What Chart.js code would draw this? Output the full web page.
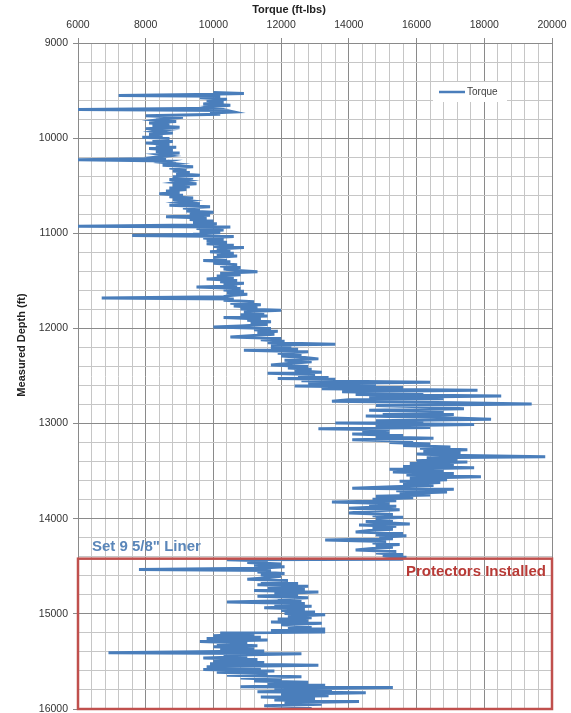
<!DOCTYPE html>
<html lang="en">
<head>
    <meta charset="UTF-8">
    <title>Torque vs Measured Depth</title>
    <script src="https://cdn.jsdelivr.net/npm/chart.js"></script>
    <style>
        body { margin: 0; background: #fff; }
        #wrap { width: 571px; height: 713px; }
    </style>
</head>
<body>
    <div id="wrap">
        <canvas id="torqueChart"></canvas>
    </div>

    <script>
        // [measured depth (ft), torque (ft-lbs)]
        const torqueByDepth = [
            [9520,10000],[9530,10900],[9540,9500],[9552,7200],[9560,10200],[9575,9600],[9590,10400],[9605,9800],
            [9620,10300],[9640,9700],[9655,10500],[9670,9900],[9685,10100],[9700,6000],[9710,10400],[9725,10600],
            [9735,9900],[9750,10200],[9765,8000],[9780,9100],[9795,8600],
            [9810,8300],[9825,8900],[9840,8100],[9855,8700],[9870,8200],[9885,9000],[9900,8000],[9915,8600],
            [9930,8300],[9945,8800],[9960,8100],[9975,8500],[9990,7900],[10005,8700],[10020,8200],[10035,8800],
            [10050,8000],[10065,8700],[10080,8300],[10095,8900],[10110,8100],[10125,8800],[10140,8300],[10155,9000],
            [10170,8400],[10185,8700],[10200,8300],[10215,8600],[10228,6000],[10240,8700],[10255,8500],[10270,8900],
            [10285,8500],[10300,9400],[10315,8700],[10330,9200],[10345,8800],[10360,9300],[10375,8900],[10390,9600],
            [10405,8800],[10420,9400],[10435,8700],[10450,9200],[10465,8900],[10480,9500],[10495,8800],[10510,9300],
            [10525,8700],[10540,9200],[10555,8600],[10570,9000],[10585,8400],[10600,9100],[10615,8700],[10630,9400],
            [10645,8800],[10660,9300],[10675,9000],[10690,9600],[10705,8700],[10720,9900],[10735,9100],[10750,9600],
            [10765,9200],[10780,10000],[10795,9300],[10810,9900],[10825,8600],[10840,9800],[10855,9300],[10870,10000],
            [10885,9400],[10900,10100],[10912,9500],[10925,6000],[10935,10500],[10950,9500],[10965,10300],[10980,9600],
            [10995,10200],[11010,9400],[11022,7600],[11035,10600],[11050,9700],[11065,10300],[11080,9800],[11095,10400],
            [11110,9800],[11125,10600],[11140,10000],[11150,10900],[11165,10100],[11180,10500],[11195,9900],[11210,10600],
            [11225,10100],[11240,10700],[11255,10000],[11270,10400],[11285,9700],[11300,10500],[11315,10000],[11330,10700],
            [11345,10200],[11360,10800],[11375,10300],[11390,10700],[11405,11300],[11420,10200],[11435,10800],[11450,10100],
            [11465,10600],[11480,9800],[11495,10700],[11510,10200],[11525,10900],[11540,10300],[11555,10700],[11565,9500],
            [11580,10800],[11595,10300],[11610,10900],[11625,10400],[11640,11000],[11655,10500],[11668,10300],[11680,6700],
            [11690,10600],
            [11705,10300],[11720,11200],[11735,10500],[11750,11400],[11765,10600],[11780,11300],[11795,10800],[11810,12000],
            [11825,10900],[11840,11500],[11855,10800],[11870,11600],[11885,10300],[11900,11400],[11915,11000],[11930,11700],
            [11945,11100],[11960,11600],[11975,10800],[11985,10000],[12000,11700],[12015,11200],[12030,11900],[12045,11300],
            [12060,11800],[12075,11200],[12090,10500],[12105,12000],[12120,11400],[12135,12100],[12150,11600],[12165,13600],
            [12175,11700],[12190,12300],[12205,11700],[12220,12500],[12230,10900],[12245,12800],[12260,11900],[12275,12600],
            [12290,12000],[12305,12700],[12320,13100],[12335,12100],[12350,12900],[12365,12300],[12385,11700],[12400,12800],
            [12415,12200],[12430,12900],[12445,12400],[12460,13200],[12470,11600],[12485,13000],[12500,12500],[12515,13400],
            [12525,11900],
            [12535,13600],[12550,12600],[12565,16400],[12580,12800],[12595,14800],[12605,12400],[12620,15600],[12635,13200],
            [12650,17800],[12665,13800],[12680,16200],[12695,14200],[12710,18500],[12725,14600],[12740,16800],[12750,14000],
            [12765,13500],[12780,17200],[12795,19400],[12810,14800],[12825,16400],[12845,17400],[12860,14600],[12875,16800],
            [12890,15000],[12905,17100],[12920,14500],[12935,16600],[12955,18200],[12970,14800],[12985,16200],[12995,13600],
            [13010,17700],[13025,14800],[13040,16400],[13055,13100],[13065,15200],
            [13080,14400],[13095,15200],[13110,14100],[13125,15600],[13140,14800],[13155,16500],[13170,14100],[13185,15900],
            [13200,15200],[13215,16400],[13230,15600],[13245,17000],[13260,16100],[13275,17500],[13290,16200],[13305,17300],
            [13320,16000],[13335,17400],[13350,19800],[13360,16300],[13375,17200],[13390,16000],[13405,17500],[13420,15800],
            [13435,17100],[13450,15600],[13465,17700],[13480,15200],[13495,16800],[13510,15300],[13525,17100],[13540,15700],
            [13560,17900],[13575,15800],[13590,16900],[13605,15500],[13620,16700],[13635,15600],[13650,16500],[13665,15300],
            [13680,14100],[13690,17100],[13705,15400],[13720,16900],[13735,15500],[13750,16400],
            [13765,14800],[13780,15900],[13795,14700],[13810,15400],[13825,13500],[13840,15200],[13855,14600],[13870,15400],
            [13890,14000],[13905,15500],[13920,14600],[13940,14000],[13955,15300],[13970,14700],[13985,15600],[14000,14800],
            [14015,15300],[14030,14500],[14045,15200],[14055,15800],[14065,14300],[14080,15400],[14095,14700],[14110,15300],
            [14125,14600],[14140,14200],[14155,15600],[14170,14800],[14180,15700],[14195,14900],[14210,15300],[14225,13300],
            [14240,15100],[14255,14700],[14270,15500],[14285,14800],[14300,15300],[14315,14600],[14330,14200],[14345,15400],
            [14360,14800],[14375,15600],[14390,15000],[14405,15700],[14415,15400],
            [14425,15600],[14432,10400],[14445,11600],[14460,11000],[14475,12000],[14490,11200],[14505,12100],[14520,11300],
            [14535,7800],[14545,11700],[14560,11300],[14575,12100],[14590,11400],[14605,12000],[14620,11600],[14635,11000],
            [14650,12200],[14665,11400],[14680,12500],[14695,11300],[14710,12800],[14725,11600],[14740,12700],[14755,11200],
            [14770,13100],[14785,11800],[14800,12500],[14815,11300],[14830,12800],[14845,11900],[14860,12600],[14875,10400],
            [14890,12700],[14905,11800],[14920,12900],[14935,11500],[14950,12700],[14965,12000],[14980,13000],[14995,12100],
            [15010,13300],[15025,12200],[15040,12900],[15055,11900],[15070,12800],[15085,11700],[15100,13200],[15115,12000],
            [15130,12900],[15145,12200],[15160,13300],[15175,11700],[15190,13300],
            [15200,10200],[15215,11200],[15230,10000],[15245,11400],[15260,9800],[15275,11600],[15290,9600],[15305,11000],
            [15320,10100],[15335,11300],[15345,10000],[15360,11200],[15375,10200],[15390,11500],[15410,6900],[15420,12600],
            [15435,10300],[15450,11000],[15465,9700],[15480,11300],[15495,10000],[15510,11500],[15525,9900],[15540,13100],
            [15555,9800],[15570,11400],[15585,9700],[15600,11800],[15615,10100],[15630,11600],[15645,10400],[15660,12600],
            [15675,10800],[15690,12000],
            [15705,11200],[15720,12800],[15735,11600],[15750,13300],[15765,10800],[15775,15300],[15790,11800],[15805,13500],
            [15820,11300],[15830,14500],[15845,12000],[15860,13400],[15875,11400],[15890,13000],[15905,11800],[15920,14300],
            [15935,12100],[15950,13200],[15965,11500],[15980,12900],[15995,12200],[16000,12600]
        ];

        const torqueTicks = [6000, 8000, 10000, 12000, 14000, 16000, 18000, 20000];
        const depthTicks = [9000, 10000, 11000, 12000, 13000, 14000, 15000, 16000];
        const linerDepth = 14420;   // Set 9 5/8" liner, protectors below this

        const blue = '#4a7ebb';
        const red = '#c0504d';
        const majorGrid = '#8a8a8a';
        const minorGrid = '#c6c6c6';
        const narrow = '"Liberation Sans Narrow", "Liberation Sans", sans-serif';

        const overlays = {
            id: 'overlays',
            afterDatasetsDraw(chart) {
                const c = chart.ctx;
                const x = chart.scales.x, y = chart.scales.y;
                const left = x.getPixelForValue(6000), right = x.getPixelForValue(20000);
                const top = y.getPixelForValue(linerDepth), bottom = y.getPixelForValue(16000);
                c.save();
                c.strokeStyle = red;
                c.lineWidth = 2.5;
                c.strokeRect(left, top, right - left, bottom - top);

                c.font = 'bold 15px ' + narrow;
                c.textBaseline = 'middle';
                c.fillStyle = '#b83a36';
                c.textAlign = 'right';
                c.fillText('Protectors Installed', right - 6, top + 13);
                c.fillStyle = '#5a86b9';
                c.textAlign = 'left';
                c.fillText('Set 9 5/8" Liner', left + 14, top - 12);
                c.restore();
            },
            afterDraw(chart) {
                const c = chart.ctx;
                c.save();
                // legend
                c.fillStyle = '#fff';
                c.fillRect(433, 82, 74, 20);
                c.strokeStyle = blue;
                c.lineWidth = 2.5;
                c.beginPath();
                c.moveTo(439, 92);
                c.lineTo(465, 92);
                c.stroke();
                c.fillStyle = '#404040';
                c.font = '10px "Liberation Sans", sans-serif';
                c.textBaseline = 'middle';
                c.textAlign = 'left';
                c.fillText('Torque', 467, 92);

                // axis titles
                c.font = 'bold 11px ' + narrow;
                c.fillStyle = '#222';
                c.textAlign = 'center';
                c.fillText('Torque (ft-lbs)', 289, 10);
                c.translate(22, 345);
                c.rotate(-Math.PI / 2);
                c.fillText('Measured Depth (ft)', 0, 0);
                c.restore();
            }
        };

        const isMajorX = v => torqueTicks.includes(v);
        const isMajorY = v => depthTicks.includes(v);

        new Chart(document.getElementById('torqueChart'), {
            type: 'scatter',
            data: {
                datasets: [{
                    label: 'Torque',
                    data: torqueByDepth.map(p => ({ x: p[1], y: p[0] })),
                    showLine: true,
                    borderColor: blue,
                    borderWidth: 3,
                    pointRadius: 0,
                    tension: 0
                }]
            },
            options: {
                responsive: true,
                maintainAspectRatio: false,
                animation: false,
                layout: { padding: { top: 0, right: 19, bottom: 4, left: 0 } },
                plugins: {
                    legend: { display: false },
                    tooltip: { enabled: false }
                },
                scales: {
                    x: {
                        type: 'linear',
                        position: 'top',
                        min: 6000,
                        max: 20000,
                        afterFit: s => { s.height = 43; s.paddingLeft = 0; s.paddingRight = 0; },
                        border: { color: majorGrid },
                        grid: {
                            color: ctx => isMajorX(ctx.tick.value) ? majorGrid : minorGrid,
                            tickColor: ctx => isMajorX(ctx.tick.value) ? majorGrid : 'rgba(0,0,0,0)',
                            tickLength: 5
                        },
                        ticks: {
                            stepSize: 400,
                            autoSkip: false,
                            maxRotation: 0,
                            padding: 7,
                            color: '#333',
                            font: { family: '"Liberation Sans", sans-serif', size: 10.5 },
                            callback: v => isMajorX(v) ? String(v) : ''
                        }
                    },
                    y: {
                        type: 'linear',
                        reverse: true,
                        min: 9000,
                        max: 16000,
                        afterFit: s => { s.width = 78; s.paddingTop = 0; s.paddingBottom = 0; },
                        border: { color: majorGrid },
                        grid: {
                            color: ctx => isMajorY(ctx.tick.value) ? majorGrid : minorGrid,
                            tickColor: ctx => isMajorY(ctx.tick.value) ? majorGrid : 'rgba(0,0,0,0)',
                            tickLength: 5
                        },
                        ticks: {
                            stepSize: 200,
                            autoSkip: false,
                            padding: 5,
                            color: '#333',
                            font: { family: '"Liberation Sans", sans-serif', size: 10.5 },
                            callback: v => isMajorY(v) ? String(v) : ''
                        }
                    }
                }
            },
            plugins: [overlays]
        });
    </script>
</body>
</html>
